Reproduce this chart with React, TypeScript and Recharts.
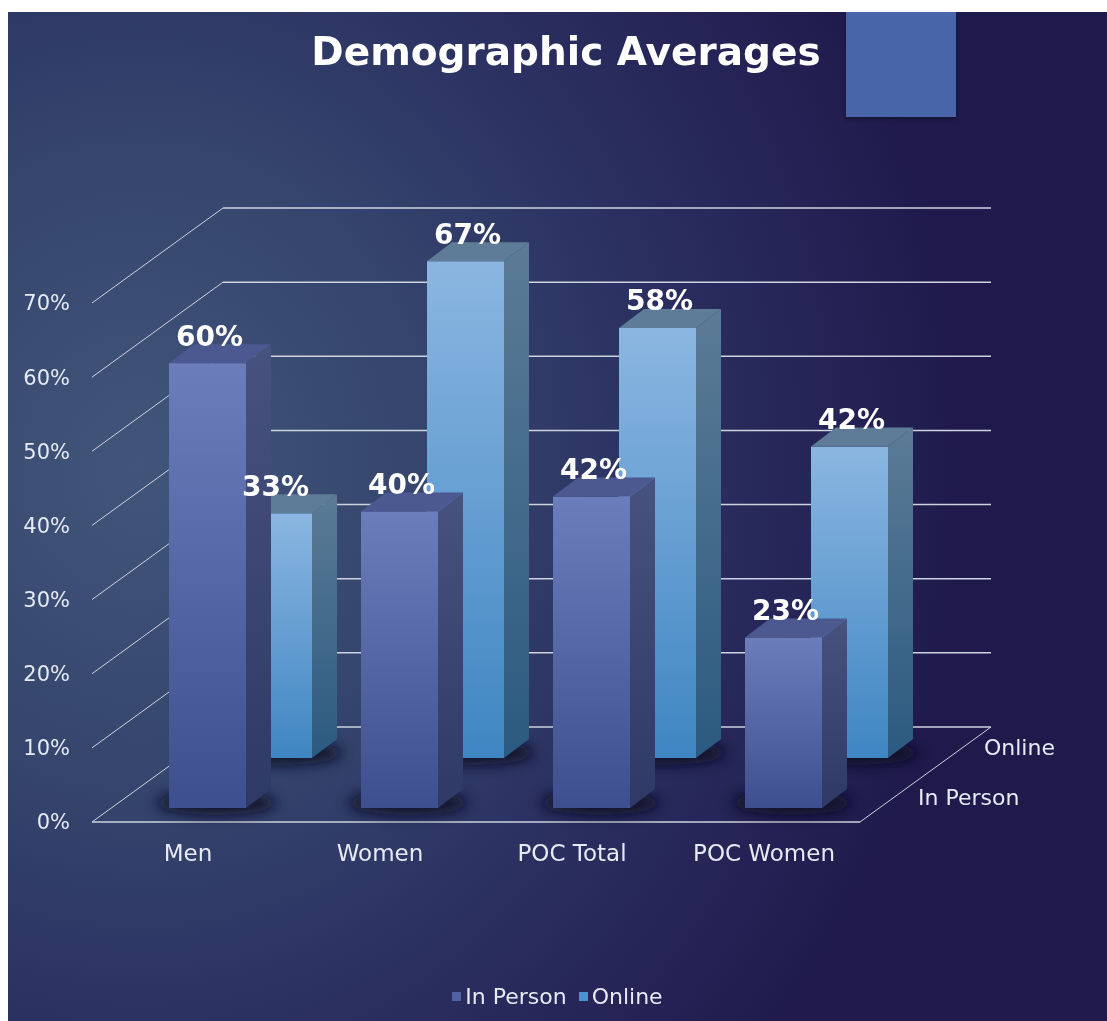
import React from "react";
import { BarChart, Bar, XAxis, YAxis, CartesianGrid, Legend, LabelList } from "recharts";

const categories = ["Men", "Women", "POC Total", "POC Women"];
const inPerson = [60, 40, 42, 23];
const online = [33, 67, 58, 42];
const yTicks = [0, 10, 20, 30, 40, 50, 60, 70];
const seriesNames = ["In Person", "Online"];

const data = categories.map((name, i) => ({
  name,
  inPerson: inPerson[i],
  online: online[i],
}));

const FONT = "'DejaVu Sans', sans-serif";
const W = 1099;
const H = 1009;
const M = { top: 291, right: 247, bottom: 169, left: 0 };
const PLOT_BOTTOM = H - M.bottom - 30;

// oblique 3d offsets
const WALL = { dx: 131, dy: -95 };
const BOX = { dx: 25, dy: -19 };
const ROW: Record<string, { dx: number; dy: number }> = {
  inPerson: { dx: 19, dy: -14 },
  online: { dx: 85, dy: -64 },
};

const C = {
  text: "#e6eaf3",
  grid: "#cdd3df",
  ipTop: "#4b5990",
  onTop: "#5e7c98",
};

function Box3D(props: any) {
  const { x, y, width, height, row } = props;
  if (!height || height <= 0) return null;
  const o = ROW[row];
  const g = row === "inPerson" ? "ip" : "on";
  const x0 = x + o.dx;
  const y0 = y + o.dy;
  const x1 = x0 + width;
  const yb = y0 + height;
  return (
    <g>
      <ellipse
        cx={x0 + width / 2 + BOX.dx / 2 - 4}
        cy={yb - 5}
        rx={width * 0.78}
        ry={12}
        fill="#080a22"
        opacity={0.9}
        filter="url(#shadowBlur)"
      />
      <rect x={x0} y={y0} width={width} height={height} fill={`url(#${g}Front)`} />
      <polygon
        points={`${x1},${y0} ${x1 + BOX.dx},${y0 + BOX.dy} ${x1 + BOX.dx},${yb + BOX.dy} ${x1},${yb}`}
        fill={`url(#${g}Side)`}
      />
      <polygon
        points={`${x0},${y0} ${x0 + BOX.dx},${y0 + BOX.dy} ${x1 + BOX.dx},${y0 + BOX.dy} ${x1},${y0}`}
        fill={g === "ip" ? C.ipTop : C.onTop}
      />
    </g>
  );
}

function makeLabel(row: string) {
  return (props: any) => {
    const vb = props.viewBox ?? props;
    const { x, y, width } = vb;
    const o = ROW[row];
    return (
      <text
        x={x + width / 2 + o.dx + 2}
        y={y + o.dy - 27}
        fill="#ffffff"
        fontFamily={FONT}
        fontWeight="bold"
        fontSize={28}
        textAnchor="middle"
        dominantBaseline="central"
      >
        {`${props.value}%`}
      </text>
    );
  };
}

function GridLine(props: any) {
  const { x1, x2, y1 } = props;
  const bx1 = x1 + WALL.dx;
  const bx2 = x2 + WALL.dx;
  const by = y1 + WALL.dy;
  const isZero = Math.abs(y1 - PLOT_BOTTOM) < 1;
  return (
    <g key={props.key}>
      <line x1={x1} y1={y1} x2={bx1} y2={by} stroke={C.grid} strokeWidth={1} />
      <line x1={bx1} y1={by} x2={bx2} y2={by} stroke={C.grid} strokeWidth={1.5} />
      {isZero && (
        <g>
          <line x1={x1} y1={y1} x2={x2} y2={y1} stroke={C.grid} strokeWidth={1.5} />
          <line x1={x2} y1={y1} x2={bx2} y2={by} stroke={C.grid} strokeWidth={1} />
          <text x={x2 + 124} y={y1 - 75} fill={C.text} fontFamily={FONT} fontSize={22} dominantBaseline="central">
            {seriesNames[1]}
          </text>
          <text x={x2 + 58} y={y1 - 25} fill={C.text} fontFamily={FONT} fontSize={22} dominantBaseline="central">
            {seriesNames[0]}
          </text>
        </g>
      )}
    </g>
  );
}

function LegendContent(props: any) {
  const items = [...(props.payload ?? [])]
    .filter((p: any) => seriesNames.includes(p.value))
    .sort((a: any, b: any) => seriesNames.indexOf(a.value) - seriesNames.indexOf(b.value));
  return (
    <div style={{ display: "flex", justifyContent: "center", gap: 12, fontFamily: FONT, fontSize: 22, color: C.text }}>
      {items.map((it: any) => (
        <span key={it.value} style={{ display: "inline-flex", alignItems: "center", gap: 4 }}>
          <span style={{ display: "inline-block", width: 9, height: 9, background: it.color }} />
          {it.value}
        </span>
      ))}
    </div>
  );
}

export default function App() {
  return (
    <div
      style={{
        position: "fixed",
        left: 8,
        top: 12,
        width: W,
        height: H,
        overflow: "hidden",
        background:
          "radial-gradient(ellipse 75% 90% at 12% 45%, #41557a 0%, #35456d 35%, #2a2f60 65%, #201a4c 100%)",
      }}
    >
      <svg width={0} height={0} style={{ position: "absolute" }}>
        <defs>
          <linearGradient id="ipFront" x1="0" y1="0" x2="0" y2="1">
            <stop offset="0%" stopColor="#6b7dbb" />
            <stop offset="100%" stopColor="#3d4f8f" />
          </linearGradient>
          <linearGradient id="ipSide" x1="0" y1="0" x2="0" y2="1">
            <stop offset="0%" stopColor="#47527f" />
            <stop offset="100%" stopColor="#2e3966" />
          </linearGradient>
          <linearGradient id="onFront" x1="0" y1="0" x2="0" y2="1">
            <stop offset="0%" stopColor="#8bb6e1" />
            <stop offset="100%" stopColor="#3e86c2" />
          </linearGradient>
          <linearGradient id="onSide" x1="0" y1="0" x2="0" y2="1">
            <stop offset="0%" stopColor="#5b7b96" />
            <stop offset="100%" stopColor="#2b5a80" />
          </linearGradient>
          <filter id="shadowBlur" x="-50%" y="-200%" width="200%" height="500%">
            <feGaussianBlur stdDeviation="7" />
          </filter>
        </defs>
      </svg>

      <div
        style={{
          position: "absolute",
          left: 0,
          width: 1116,
          top: 17,
          textAlign: "center",
          fontFamily: FONT,
          fontWeight: "bold",
          fontSize: 39,
          color: "#ffffff",
        }}
      >
        Demographic Averages
      </div>
      <div
        style={{
          position: "absolute",
          left: 838,
          top: 0,
          width: 110,
          height: 105,
          background: "#4865a9",
          boxShadow: "0 2px 4px rgba(0,0,0,0.35)",
        }}
      />

      <BarChart width={W} height={H} data={data} margin={M}>
        <CartesianGrid xAxisId="front" vertical={false} horizontal={(p: any) => <GridLine {...p} />} />
        <XAxis
          xAxisId="front"
          dataKey="name"
          height={30}
          tickSize={0}
          tickMargin={-7}
          axisLine={false}
          tickLine={false}
          tick={{ fill: C.text, fontSize: 23, fontFamily: FONT }}
        />
        <XAxis xAxisId="back" dataKey="name" hide />
        <YAxis
          width={84}
          domain={[0, 70]}
          ticks={yTicks}
          interval={0}
          tickSize={0}
          tickMargin={22}
          axisLine={false}
          tickLine={false}
          tickFormatter={(v: number) => `${v}%`}
          tick={{ fill: C.text, fontSize: 21, fontFamily: FONT }}
        />
        <Legend
          layout="horizontal"
          verticalAlign="middle"
          align="center"
          content={<LegendContent />}
          wrapperStyle={{ top: 972, left: 0, width: W }}
        />
        <Bar
          xAxisId="back"
          dataKey="online"
          name={seriesNames[1]}
          fill="#4a93d1"
          barSize={77}
          isAnimationActive={false}
          shape={(p: any) => <Box3D {...p} row="online" />}
        >
          <LabelList dataKey="online" content={makeLabel("online")} />
        </Bar>
        <Bar
          xAxisId="front"
          dataKey="inPerson"
          name={seriesNames[0]}
          fill="#5062a4"
          barSize={77}
          isAnimationActive={false}
          shape={(p: any) => <Box3D {...p} row="inPerson" />}
        >
          <LabelList dataKey="inPerson" content={makeLabel("inPerson")} />
        </Bar>
      </BarChart>
    </div>
  );
}
